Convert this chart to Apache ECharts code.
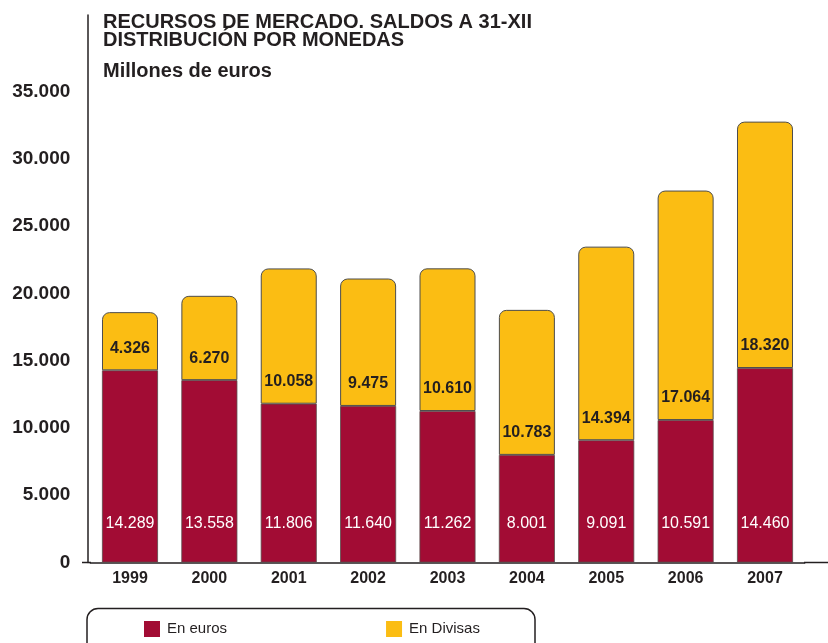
<!DOCTYPE html>
<html>
<head>
<meta charset="utf-8">
<title>Recursos de mercado</title>
<script src="https://cdn.jsdelivr.net/npm/echarts@6/dist/echarts.min.js"></script>
<style>
    html, body {margin: 0; padding: 0; background: #fff;}
    #chart_recursos {width: 828px; height: 643px;}
</style>
</head>
<body>
<div id="chart_recursos"></div>
<script>
/*datos del grafico*/
var years = ['1999', '2000', '2001', '2002', '2003', '2004', '2005', '2006', '2007'];
var enEuros = [14289, 13558, 11806, 11640, 11262, 8001, 9091, 10591, 14460];
var enDivisas = [4326, 6270, 10058, 9475, 10610, 10783, 14394, 17064, 18320];
var yTicks = [0, 5000, 10000, 15000, 20000, 25000, 30000, 35000];

var colorEuros = '#a20c34';
var colorDivisas = '#fbbd13';
var textColor = '#231f20';
var fontName = '"Liberation Sans", Arial, sans-serif';

/*formato con punto de miles*/
function formatMiles(v) {
    return String(v).replace(/\B(?=(\d{3})+(?!\d))/g, '.');
}

function drawChart() {
    var myChart = echarts.init(document.getElementById('chart_recursos'));
    var option = {
        animation: false,
        textStyle: {fontFamily: fontName},
        title: [{
            text: 'RECURSOS DE MERCADO. SALDOS A 31-XII\nDISTRIBUCIÓN POR MONEDAS',
            left: 103,
            top: 13,
            padding: 0,
            textStyle: {fontSize: 20, fontWeight: 'bold', color: textColor, lineHeight: 18, fontFamily: fontName}
        }, {
            text: 'Millones de euros',
            left: 103,
            top: 61,
            padding: 0,
            textStyle: {fontSize: 20, fontWeight: 'bold', color: textColor, lineHeight: 20, fontFamily: fontName}
        }],
        legend: {
            left: 144,
            top: 621,
            padding: 0,
            itemWidth: 16,
            itemHeight: 16,
            itemGap: 159,
            icon: 'rect',
            itemStyle: {borderWidth: 0},
            textStyle: {fontSize: 15, color: textColor, fontFamily: fontName, padding: [0, 0, 0, 2]},
            data: ['En euros', 'En Divisas']
        },
        grid: {
            left: 90.3,
            right: 23.3,
            top: 15.1,
            bottom: 80.5,
            containLabel: false
        },
        xAxis: {
            type: 'category',
            data: years,
            axisLine: {lineStyle: {color: textColor, width: 1.5}},
            axisTick: {show: false},
            axisLabel: {fontSize: 16, fontWeight: 'bold', color: textColor, margin: 8, fontFamily: fontName}
        },
        yAxis: {
            type: 'value',
            min: 0,
            max: 40700,
            interval: 5000,
            offset: 3,
            axisLine: {show: true, lineStyle: {color: textColor, width: 1.5}},
            axisTick: {show: false},
            splitLine: {show: false},
            axisLabel: {
                fontSize: 19,
                fontWeight: 'bold',
                color: textColor,
                margin: 17,
                padding: [0, 0, 7, 0],
                fontFamily: fontName,
                formatter: function (v) {
                    return yTicks.indexOf(v) >= 0 ? formatMiles(v) : '';
                }
            }
        },
        graphic: [
            /*marco de la leyenda*/
            {
                type: 'rect',
                shape: {x: 87, y: 608.5, width: 448, height: 60, r: 11},
                style: {fill: 'none', stroke: textColor, lineWidth: 1.5}
            },
            /*prolongacion del eje X*/
            {
                type: 'line',
                shape: {x1: 82, y1: 562.5, x2: 91, y2: 562.5},
                style: {stroke: textColor, lineWidth: 1.5}
            },
            {
                type: 'line',
                shape: {x1: 804, y1: 562.5, x2: 828, y2: 562.5},
                style: {stroke: textColor, lineWidth: 1.5}
            }
        ],
        series: [
            {
                name: 'En euros',
                type: 'bar',
                stack: 'total',
                barWidth: 56,
                data: enEuros,
                itemStyle: {color: colorEuros, borderColor: '#5a4a4a', borderWidth: 0.8},
                label: {
                    show: true,
                    position: 'insideBottom',
                    distance: 31,
                    color: '#fff',
                    fontSize: 16,
                    fontFamily: fontName,
                    formatter: function (p) { return formatMiles(p.value); }
                }
            },
            {
                name: 'En Divisas',
                type: 'bar',
                stack: 'total',
                barWidth: 56,
                data: enDivisas,
                itemStyle: {color: colorDivisas, borderColor: '#4d4d4d', borderWidth: 1, borderRadius: [7, 7, 0, 0]},
                label: {
                    show: true,
                    position: 'insideBottom',
                    distance: 14,
                    color: textColor,
                    fontSize: 16,
                    fontWeight: 'bold',
                    fontFamily: fontName,
                    formatter: function (p) { return formatMiles(p.value); }
                }
            }
        ]
    };
    myChart.setOption(option);
}

drawChart();
</script>
</body>
</html>
